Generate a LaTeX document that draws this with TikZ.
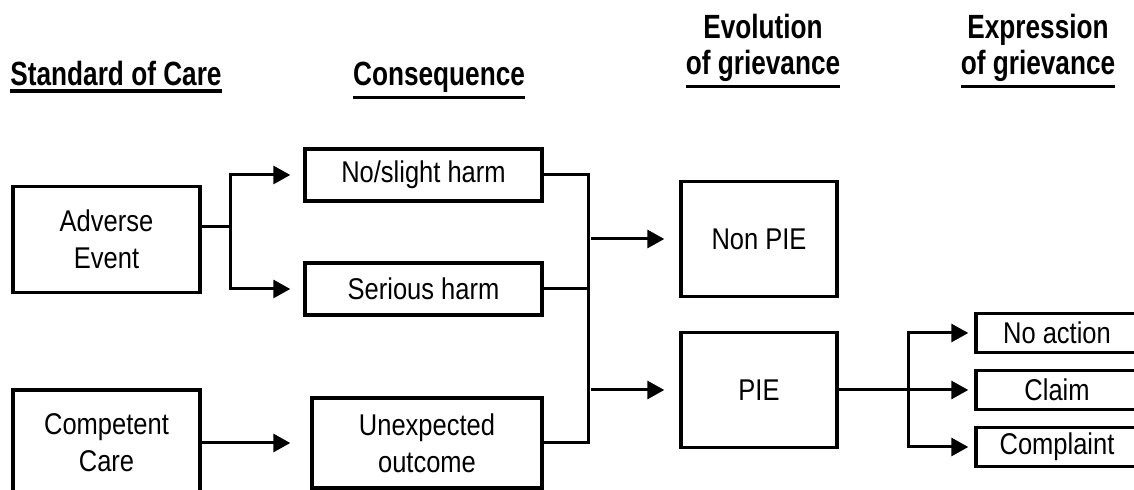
\documentclass[tikz,border=0pt]{standalone}
\usepackage{fontspec}
\setmainfont{Liberation Sans}[FakeStretch=0.85]
\newfontfamily\titulofont{Liberation Sans}[FakeStretch=0.78]
\usepackage{xcolor}
\usetikzlibrary{arrows.meta,calc}
\definecolor{tinta}{HTML}{000000}
\newcommand{\subrayado}[1]{\vtop{\hbox{#1}\kern1.5pt\hrule height 1.6pt}}

\begin{document}
\begin{tikzpicture}[x=0.5pt,y=-0.5pt,
  font=\fontsize{15}{18.5}\selectfont,
  caja/.style={draw=tinta,line width=1.7pt,inner sep=0pt,align=center},
  origen/.style={caja,minimum width=93.5pt,minimum height=53pt},
  consecuencia/.style={caja,minimum width=118.5pt,minimum height=26pt},
  evolucion/.style={caja,minimum width=78pt,minimum height=57.5pt},
  expresion/.style={caja,minimum width=81pt,minimum height=19.5pt},
  titulo/.style={font=\titulofont\bfseries\fontsize{16.8}{18}\selectfont,align=center,inner sep=0pt,anchor=base},
  linea/.style={line width=1.5pt,tinta},
  flecha/.style={linea,-{Triangle[length=8.5pt,width=9pt]}}]
\useasboundingbox (0,0) rectangle (1134,490);
% titulos de columna
\node[titulo] (t1) at (116,86) {\subrayado{Standard of Care}};
\node[titulo] (t2) at (439,86) {\subrayado{Consequence}};
\node[titulo] (t3) at (763,75) {Evolution\\\subrayado{of grievance}};
\node[titulo] (t4) at (1038,75) {Expression\\\subrayado{of grievance}};
% cajas
\node[origen] (adverso) at (106.5,239.5) {Adverse\\Event};
\node[origen] (competente) at (106.5,443) {Competent\\Care};
\node[consecuencia] (leve) at (423.5,175) {No/slight harm};
\node[consecuencia] (grave) at (423.5,289) {Serious harm};
\node[consecuencia,minimum width=115pt,minimum height=45pt] (inesperado) at (427,443) {Unexpected\\outcome};
\node[evolucion] (nopie) at (759,239) {Non PIE};
\node[evolucion] (pie) at (759,390) {PIE};
\node[expresion] (ninguna) at (1057,333) {No action};
\node[expresion] (reclamo) at (1057,390) {Claim};
\node[expresion] (queja) at (1057,447) {Complaint};
% puntos de rama
\coordinate (rama1) at (230,227);
\coordinate (union) at (588,0);
\coordinate (rama2) at (908,0);
% conectores
\draw[linea] (rama1 -| adverso.east) -- (rama1);
\draw[flecha] (rama1) |- ([xshift=-6.5pt]leve.west);
\draw[flecha] (rama1) |- ([xshift=-6.5pt]grave.west);
\draw[flecha] (competente.east) -- ([xshift=-10pt]inesperado.west);
\draw[linea] (leve.east) -| (union |- inesperado.east) -- (inesperado.east);
\draw[linea] (grave.east) -- (union |- grave.east);
\draw[flecha] ([xshift=1.5pt]union |- nopie.west) -- ([xshift=-7.5pt]nopie.west);
\draw[flecha] ([xshift=1.5pt]union |- pie.west) -- ([xshift=-7.5pt]pie.west);
\draw[flecha] (pie.east) -- ([xshift=-3pt]reclamo.west);
\draw[flecha] (rama2 |- pie.east) |- ([xshift=-3pt]ninguna.west);
\draw[flecha] (rama2 |- pie.east) |- ([xshift=-3pt]queja.west);
\end{tikzpicture}
\end{document}
